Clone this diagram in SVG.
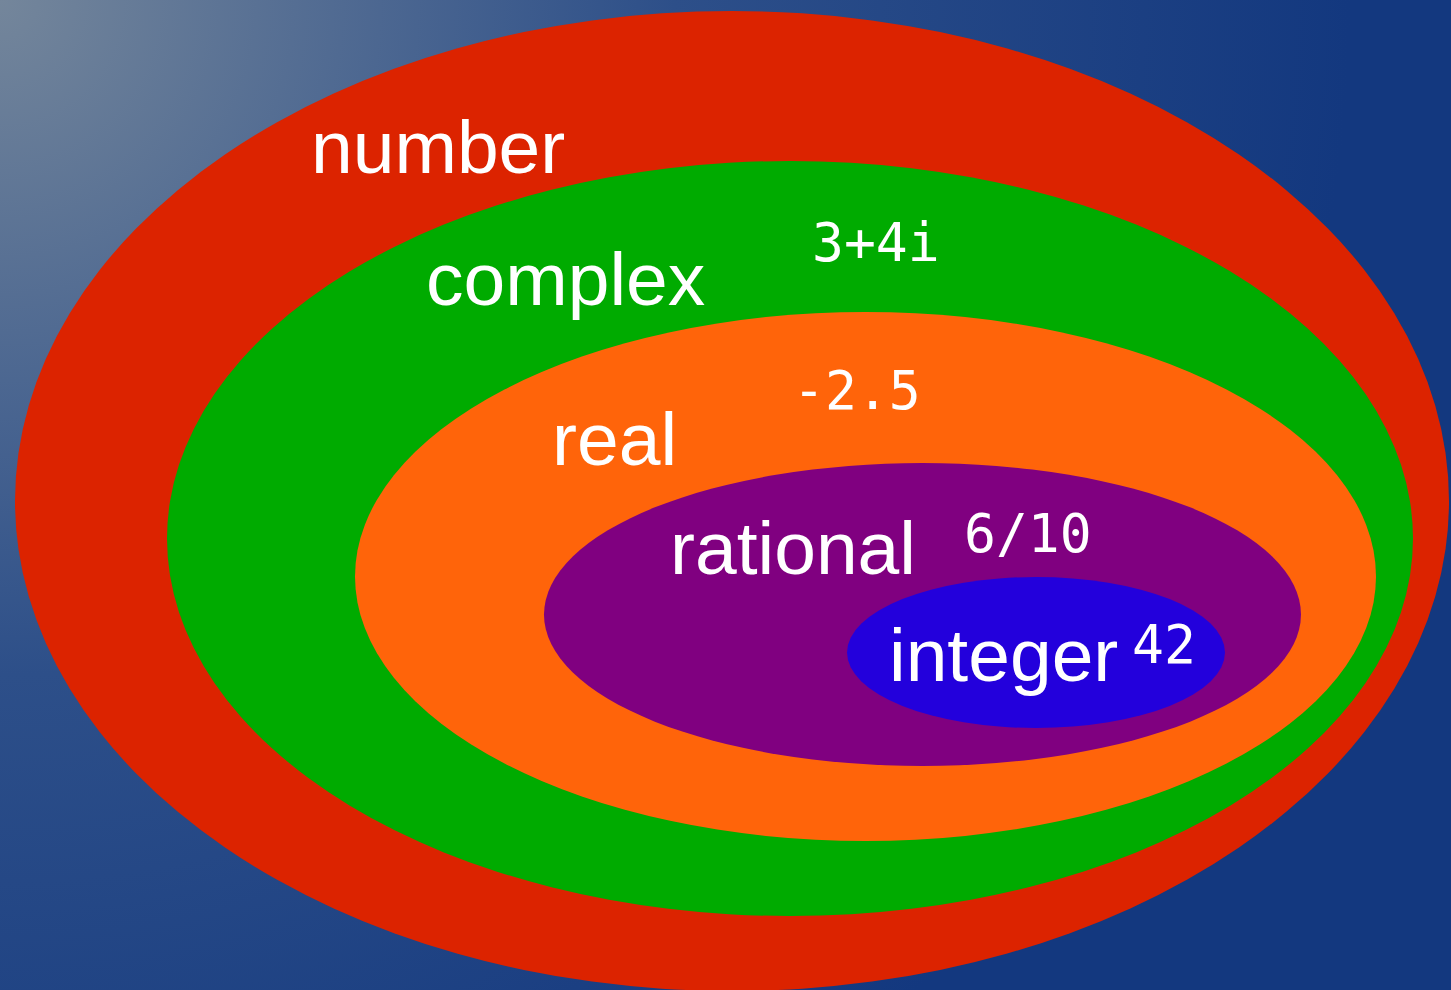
<svg xmlns="http://www.w3.org/2000/svg" width="1451" height="990" viewBox="0 0 1451 990">
<defs>
<radialGradient id="bg" gradientUnits="userSpaceOnUse" cx="0" cy="0" r="1350">
<stop offset="0" stop-color="#74869b"/>
<stop offset="0.5" stop-color="#2d4f89"/>
<stop offset="1" stop-color="#13387f"/>
</radialGradient>
</defs>
<style>
.lbl{font-family:"Liberation Sans",Arial,sans-serif;font-size:75px;fill:#ffffff}
.val{font-family:"DejaVu Sans Mono",monospace;font-size:53px;fill:#ffffff}
</style>
<rect width="1451" height="990" fill="url(#bg)"/>
<g id="number">
<ellipse cx="732" cy="501" rx="717" ry="490" fill="#dc2300"/>
<text class="lbl" x="311" y="173">number</text>
</g>
<g id="complex">
<ellipse cx="790" cy="538.5" rx="623" ry="377.5" fill="#00ab00"/>
<text class="lbl" x="426" y="305">complex</text>
<text class="val" x="812" y="261">3+4i</text>
</g>
<g id="real">
<ellipse cx="865.5" cy="576.5" rx="510.5" ry="264.5" fill="#ff640a"/>
<text class="lbl" x="552" y="465">real</text>
<text class="val" x="793" y="409">-2.5</text>
</g>
<g id="rational">
<ellipse cx="922.5" cy="614.5" rx="378.5" ry="151.5" fill="#800080"/>
<text class="lbl" x="670" y="574">rational</text>
<text class="val" x="964" y="552">6/10</text>
</g>
<g id="integer">
<ellipse cx="1036" cy="652.5" rx="189" ry="75.5" fill="#2300dc"/>
<text class="lbl" x="889" y="681">integer</text>
<text class="val" x="1132" y="663">42</text>
</g>
<g id="connectors"/>
</svg>
